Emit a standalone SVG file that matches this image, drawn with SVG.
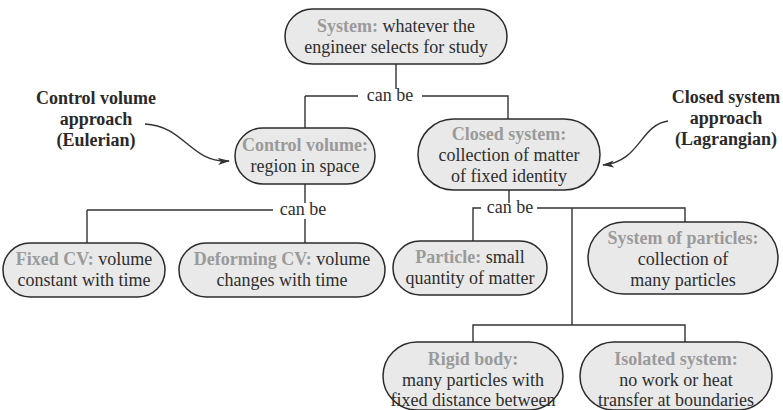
<svg xmlns="http://www.w3.org/2000/svg" width="783" height="410" viewBox="0 0 783 410">
<defs>
<marker id="ah" markerWidth="12" markerHeight="8" refX="11" refY="4" orient="auto" markerUnits="userSpaceOnUse">
<path d="M0,0.5 L12,4 L0,7.5 L3,4 Z" fill="#333"/>
</marker>
</defs>
<style>
.box{fill:#e9e9e9;stroke:#2b2b2b;stroke-width:1.5}
text{font-family:'Liberation Serif','DejaVu Serif',serif}
.t{font-size:18px;fill:#2e2e2e;text-anchor:middle}
.k{font-weight:bold;fill:#9a9a9a}
.side{font-size:18px;font-weight:bold;fill:#2a2a2a;text-anchor:middle}
.c{fill:none;stroke:#333;stroke-width:1.4}
</style>
<rect width="783" height="410" fill="#ffffff"/>
<g id="connectors">
<path class="c" d="M396,64 V89"/>
<path class="c" d="M305,96 H358 M422,96 H508 V119 M305,96 V128"/>
<path class="c" d="M305,184 V203 M305,219 V243 M87,210 H273 M87,210 V243"/>
<path class="c" d="M509,190 V203 M473,243 V208 H481 M537,208 H685 V222 M572,208 V325 M473,342 V325 H685 V342"/>
<path class="c" d="M145,124 C185,126 190,163 229,161" marker-end="url(#ah)"/>
<path class="c" d="M668,121 C640,125 640,162 603,165" marker-end="url(#ah)"/>
<text class="t" x="390" y="101" font-family="Liberation Serif, serif">can be</text>
<text class="t" x="303" y="215" font-family="Liberation Serif, serif">can be</text>
<text class="t" x="510" y="213" font-family="Liberation Serif, serif">can be</text>
</g>
<g id="label-cv-approach">
<text class="side" x="96" y="104">Control volume</text>
<text class="side" x="96" y="125">approach</text>
<text class="side" x="96" y="146">(Eulerian)</text>
</g>
<g id="label-cs-approach">
<text class="side" x="726" y="103">Closed system</text>
<text class="side" x="726" y="124">approach</text>
<text class="side" x="726" y="145">(Lagrangian)</text>
</g>
<g id="system">
<rect class="box" x="285" y="9" width="222" height="55" rx="27.5"/>
<text class="t" x="396" y="32"><tspan class="k">System:</tspan> whatever the</text>
<text class="t" x="396" y="53">engineer selects for study</text>
</g>
<g id="control-volume">
<rect class="box" x="235" y="128" width="140" height="56" rx="28"/>
<text class="t" x="305" y="151"><tspan class="k">Control volume:</tspan></text>
<text class="t" x="305" y="172">region in space</text>
</g>
<g id="closed-system">
<rect class="box" x="418" y="119" width="182" height="71" rx="35.5"/>
<text class="t" x="509" y="140"><tspan class="k">Closed system:</tspan></text>
<text class="t" x="509" y="161">collection of matter</text>
<text class="t" x="509" y="182">of fixed identity</text>
</g>
<g id="fixed-cv">
<rect class="box" x="3" y="243" width="162" height="54" rx="27"/>
<text class="t" x="84" y="265"><tspan class="k">Fixed CV:</tspan> volume</text>
<text class="t" x="84" y="286">constant with time</text>
</g>
<g id="deforming-cv">
<rect class="box" x="179" y="243" width="206" height="54" rx="27"/>
<text class="t" x="282" y="265"><tspan class="k">Deforming CV:</tspan> volume</text>
<text class="t" x="282" y="286">changes with time</text>
</g>
<g id="particle">
<rect class="box" x="393" y="241" width="154" height="54" rx="27"/>
<text class="t" x="470" y="263"><tspan class="k">Particle:</tspan> small</text>
<text class="t" x="470" y="284">quantity of matter</text>
</g>
<g id="system-of-particles">
<rect class="box" x="588" y="222" width="190" height="72" rx="36"/>
<text class="t" x="683" y="244"><tspan class="k">System of particles:</tspan></text>
<text class="t" x="683" y="265">collection of</text>
<text class="t" x="683" y="286">many particles</text>
</g>
<g id="rigid-body">
<rect class="box" x="383" y="342" width="180" height="68" rx="34"/>
<text class="t" x="473" y="365"><tspan class="k">Rigid body:</tspan></text>
<text class="t" x="473" y="386">many particles with</text>
<text class="t" x="473" y="406">fixed distance between</text>
</g>
<g id="isolated-system">
<rect class="box" x="580" y="342" width="192" height="68" rx="34"/>
<text class="t" x="676" y="365"><tspan class="k">Isolated system:</tspan></text>
<text class="t" x="676" y="386">no work or heat</text>
<text class="t" x="676" y="406">transfer at boundaries</text>
</g>
</svg>
